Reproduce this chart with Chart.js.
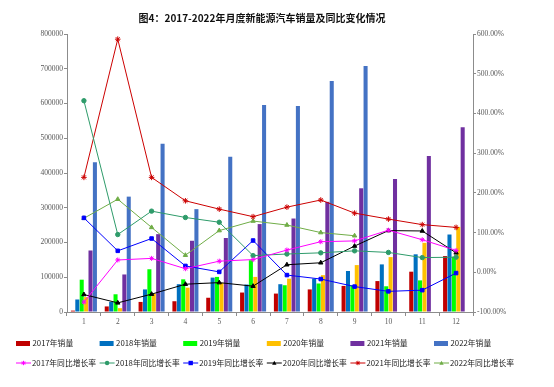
<!DOCTYPE html>
<html>
<head>
<meta charset="utf-8">
<script src="https://cdn.jsdelivr.net/npm/chart.js@4"></script>
<style>
  html, body { margin: 0; padding: 0; background: #fff; }
  #wrap { width: 554px; height: 387px; }
</style>
</head>
<body>
<div id="wrap"><canvas id="nevChart" width="554" height="387"></canvas></div>
<script>
// months on the x axis
const months = ['1', '2', '3', '4', '5', '6', '7', '8', '9', '10', '11', '12'];

// monthly sales (vehicles)
const sales2017 = [4000, 16000, 29000, 31000, 41000, 56000, 53000, 65000, 75000, 89000, 116000, 161000];
const sales2018 = [36000, 29000, 65000, 80000, 99000, 79000, 80000, 96000, 118000, 137000, 166000, 223000];
const sales2019 = [93000, 51000, 123000, 94000, 101000, 149000, 77000, 82000, 77000, 74000, 91000, 159000];
const sales2020 = [43000, 11000, 53000, 70000, 84000, 101000, 96000, 106000, 135000, 158000, 199000, 245000];
const sales2021 = [177000, 108000, 224000, 205000, 213000, 253000, 269000, 317000, 356000, 383000, 449000, 532000];
const sales2022 = [431000, 332000, 484000, 296000, 447000, 596000, 593000, 665000, 708000, null, null, null];

// year-on-year growth (%)
const rate2017 = [-75, 31, 35, 9, 28, 32, 56, 77, 79, 106, 82, 55];
const rate2018 = [432, 95, 154, 138, 126, 42, 46, 49, 54, 50, 37, 38];
const rate2019 = [137, 54, 85, 16, 1, 80, -7, -17, -36, -48, -45, -2];
const rate2020 = [-56, -77, -55, -30, -26, -35, 19, 24, 66, 105, 104, 49];
const rate2021 = [239, 587, 239, 180, 159, 140, 164, 182, 149, 134, 120, 113];
const rate2022 = [136, 184, 113, 43, 105, 129, 119, 100, 92, null, null, null];

// axis ticks
const salesTicks = [0, 800000, 100000];   // min, max, step
const rateTicks = [-100, 600, 100];

const tickFont = { family: 'Liberation Serif', size: 7.5 };
const tickColor = '#595959';
const axisColor = '#8c8c8c';

function barSet(label, data, color) {
  return {
    type: 'bar', label: label, data: data, backgroundColor: color,
    yAxisID: 'y', order: 2,
    categoryPercentage: 0.78, barPercentage: 0.92
  };
}

function lineSet(label, data, color, style, radius) {
  return {
    type: 'line', label: label, data: data, borderColor: color, backgroundColor: color,
    borderWidth: 1, pointStyle: style, pointRadius: radius, pointBorderWidth: 1,
    tension: 0, yAxisID: 'y1', order: 1, spanGaps: false
  };
}

// draws a small marker for the legend
function drawMarker(ctx, style, x, y, r, color) {
  ctx.save();
  ctx.fillStyle = color;
  ctx.strokeStyle = color;
  ctx.lineWidth = 1;
  ctx.beginPath();
  if (style === 'circle') {
    ctx.arc(x, y, r, 0, Math.PI * 2);
    ctx.fill();
  } else if (style === 'rect') {
    ctx.fillRect(x - r, y - r, r * 2, r * 2);
  } else if (style === 'triangle') {
    ctx.moveTo(x, y - r);
    ctx.lineTo(x + r, y + r * 0.8);
    ctx.lineTo(x - r, y + r * 0.8);
    ctx.closePath();
    ctx.fill();
  } else {
    for (let a = 0; a < 4; a++) {
      const ang = a * Math.PI / 4;
      ctx.moveTo(x - Math.cos(ang) * r, y - Math.sin(ang) * r);
      ctx.lineTo(x + Math.cos(ang) * r, y + Math.sin(ang) * r);
    }
    ctx.stroke();
  }
  ctx.restore();
}

// title and two-row legend drawn under the plot
const extrasPlugin = {
  id: 'extras',
  afterDraw(chart) {
    const ctx = chart.ctx;
    ctx.save();
    ctx.fillStyle = '#111';
    ctx.font = 'bold 10px "Noto Sans CJK SC"';
    ctx.textAlign = 'center';
    ctx.textBaseline = 'middle';
    ctx.fillText('图4：2017-2022年月度新能源汽车销量及同比变化情况', 262, 18);

    ctx.font = '7.8px "Noto Sans CJK SC"';
    ctx.textAlign = 'left';
    ctx.fillStyle = '#222';
    const step = 83.6;
    chart.data.datasets.forEach((ds, i) => {
      if (ds.type === 'bar') {
        const x = 16 + i * step;
        ctx.fillStyle = ds.backgroundColor;
        ctx.fillRect(x, 341, 14, 5);
        ctx.fillStyle = '#222';
        ctx.fillText(ds.label, x + 16.5, 343.5);
      } else {
        const x = 16 + (i - 6) * step;
        ctx.strokeStyle = ds.borderColor;
        ctx.lineWidth = 1;
        ctx.beginPath();
        ctx.moveTo(x, 363);
        ctx.lineTo(x + 15, 363);
        ctx.stroke();
        drawMarker(ctx, ds.pointStyle, x + 7.5, 363, 2.2, ds.borderColor);
        ctx.fillStyle = '#222';
        ctx.fillText(ds.label, x + 16, 363.5);
      }
    });
    ctx.restore();
  }
};

const ctx = document.getElementById('nevChart');

const chart = new Chart(ctx, {
  data: {
    labels: months,
    datasets: [
      barSet('2017年销量', sales2017, '#C00000'),
      barSet('2018年销量', sales2018, '#0070C0'),
      barSet('2019年销量', sales2019, '#00FF00'),
      barSet('2020年销量', sales2020, '#FFC000'),
      barSet('2021年销量', sales2021, '#7030A0'),
      barSet('2022年销量', sales2022, '#4472C4'),
      lineSet('2017年同比增长率', rate2017, '#FF00FF', 'star', 2.5),
      lineSet('2018年同比增长率', rate2018, '#2E9B6A', 'circle', 2.2),
      lineSet('2019年同比增长率', rate2019, '#0000FF', 'rect', 2.5),
      lineSet('2020年同比增长率', rate2020, '#000000', 'triangle', 2.5),
      lineSet('2021年同比增长率', rate2021, '#CC0000', 'star', 2.8),
      lineSet('2022年同比增长率', rate2022, '#70AD47', 'triangle', 2.5)
    ]
  },
  options: {
    responsive: false,
    animation: false,
    layout: { padding: { top: 34, bottom: 55, left: 0, right: 0 } },
    plugins: {
      legend: { display: false },
      title: { display: false },
      tooltip: { enabled: false }
    },
    scales: {
      x: {
        offset: true,
        grid: { display: true, drawOnChartArea: false, drawTicks: true, tickLength: 4, color: axisColor, offset: true },
        border: { display: true, color: axisColor },
        ticks: { font: tickFont, color: tickColor, padding: 2, maxRotation: 0 },
        afterFit(scale) { scale.height = 20; }
      },
      y: {
        position: 'left',
        min: salesTicks[0], max: salesTicks[1],
        grid: { drawOnChartArea: false, drawTicks: true, tickLength: 3, color: axisColor },
        border: { display: true, color: axisColor },
        ticks: {
          stepSize: salesTicks[2], font: tickFont, color: tickColor, padding: 1,
          callback: v => String(v)
        },
        afterFit(scale) { scale.width = 67; }
      },
      y1: {
        position: 'right',
        min: rateTicks[0], max: rateTicks[1],
        grid: { drawOnChartArea: false, drawTicks: true, tickLength: 3, color: axisColor },
        border: { display: true, color: axisColor },
        ticks: {
          stepSize: rateTicks[2], font: tickFont, color: tickColor, padding: 1,
          callback: v => v.toFixed(2) + '%'
        },
        afterFit(scale) { scale.width = 81; }
      }
    }
  },
  plugins: [extrasPlugin]
});
</script>
</body>
</html>
